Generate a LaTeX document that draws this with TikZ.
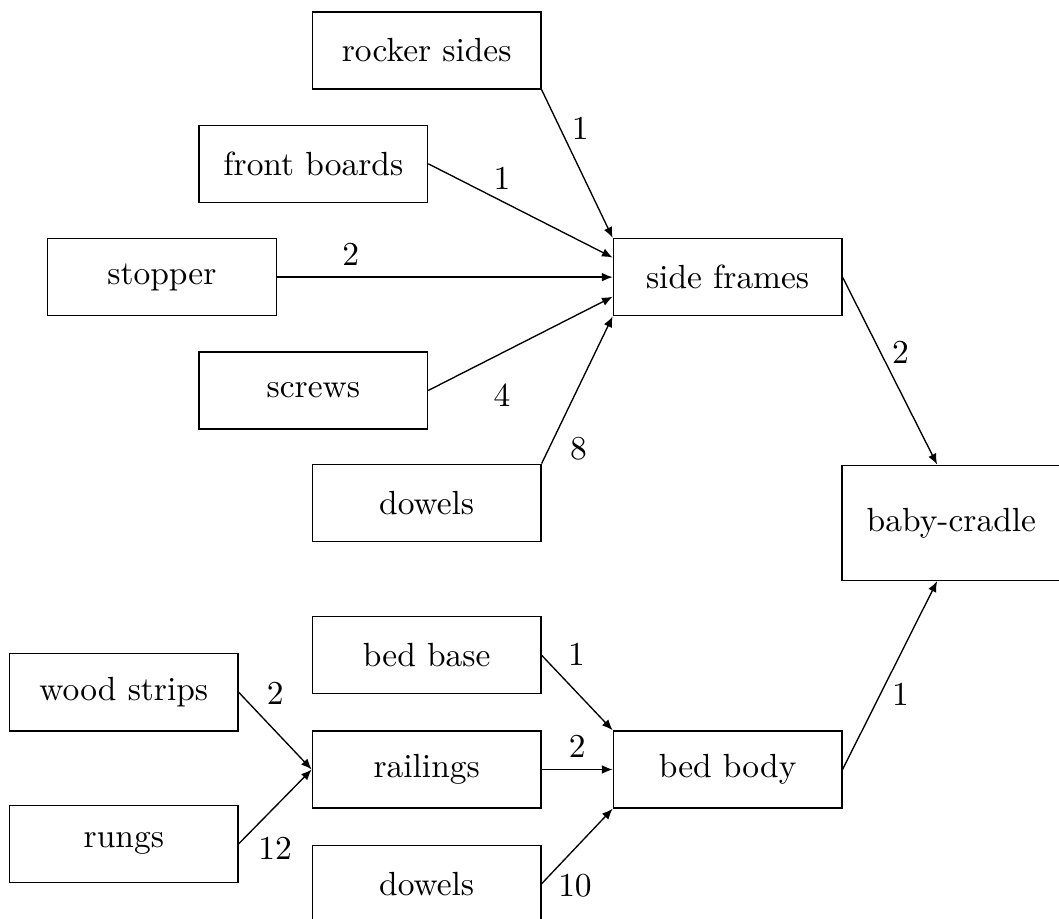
\documentclass[tikz,border=0pt]{standalone}
\usepackage{tikz}
\usetikzlibrary{arrows.meta,positioning,calc}

\begin{document}
\begin{tikzpicture}[part/.style={draw,rectangle,minimum width=2.4cm,minimum height=0.81cm},
    >={Latex[length=3.2pt,width=2.6pt]}]
    \useasboundingbox (0,0) rectangle (11.12,9.64);
    % side frames
    \node[part] (rocker) at (4.48,9.11) {rocker sides};
    \node[part] (front) at (3.29,7.92) {front boards};
    \node[part] (stopper) at (1.70,6.73) {stopper};
    \node[part] (screws) at (3.29,5.54) {screws};
    \node[part] (dowelsA) at (4.48,4.36) {dowels};
    \node[part] (side) at (7.64,6.73) {side frames};
    \draw[->] (rocker.south east) -- (side.north west) node[pos=.26,right] {1};
    \draw[->] (front.east) -- ($(side.north west)!.25!(side.south west)$) node[pos=.4,above] {1};
    \draw[->] (stopper.east) -- (side.west) node[pos=.22,above] {2};
    \draw[->] (screws.east) -- ($(side.north west)!.75!(side.south west)$) node[pos=.4,below=2mm] {4};
    \draw[->] (dowelsA.north east) -- (side.south west) node[pos=.1,right=1mm] {8};

    % baby-cradle
    \node[part,minimum width=2.3cm,minimum height=1.21cm] (cradle) at (9.99,4.15) {baby-cradle};
    \draw[->] (side.east) -- ([xshift=-1.5mm]cradle.north) node[pos=.4,right] {2};

    % bed body
    \node[part] (base) at (4.48,2.76) {bed base};
    \node[part] (strips) at (1.30,2.37) {wood strips};
    \node[part] (railings) at (4.48,1.56) {railings};
    \node[part] (rungs) at (1.30,0.78) {rungs};
    \node[part] (dowelsB) at (4.48,0.36) {dowels};
    \node[part] (body) at (7.64,1.56) {bed body};
    \draw[->] (strips.east) -- (railings.west) node[pos=.5,above=1.5mm] {2};
    \draw[->] (rungs.east) -- (railings.west) node[pos=.5,below=2mm] {12};
    \draw[->] (base.east) -- (body.north west) node[pos=.49,above=1.5mm] {1};
    \draw[->] (railings.east) -- (body.west) node[pos=.5,above] {2};
    \draw[->] (dowelsB.east) -- (body.south west) node[pos=.47,below=1.5mm] {10};
    \draw[->] (body.east) -- ([xshift=-1.5mm]cradle.south) node[pos=.4,right] {1};
\end{tikzpicture}
\end{document}
